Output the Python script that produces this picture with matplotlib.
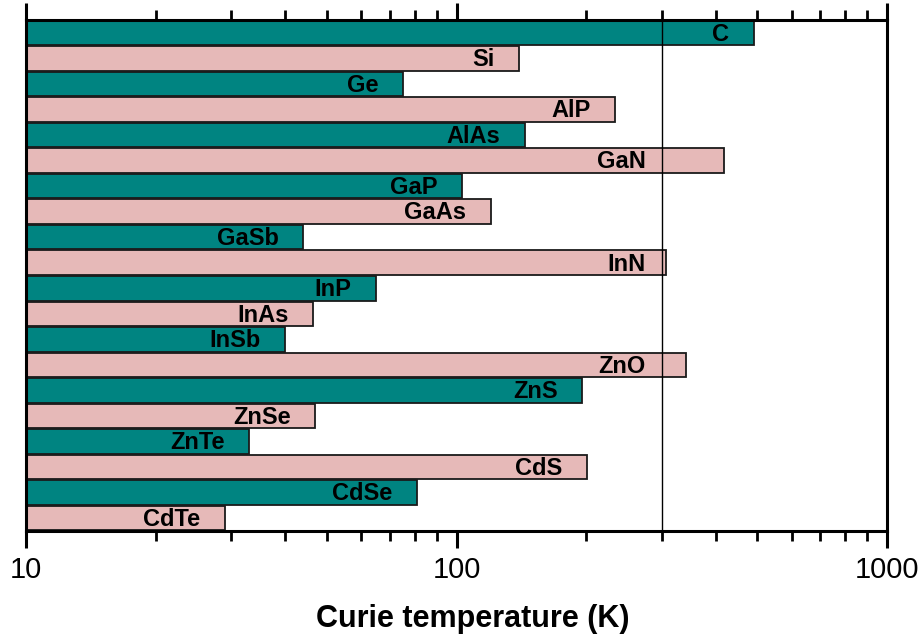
import numpy as np
import matplotlib
matplotlib.use("Agg")
import matplotlib.pyplot as plt
from matplotlib.ticker import LogLocator, NullFormatter, FixedLocator, FixedFormatter

# data (top to bottom)
materials = ["C", "Si", "Ge", "AlP", "AlAs", "GaN", "GaP", "GaAs", "GaSb", "InN",
             "InP", "InAs", "InSb", "ZnO", "ZnS", "ZnSe", "ZnTe", "CdS", "CdSe", "CdTe"]
curie_K = [490, 140, 75, 234, 144, 418, 103, 120, 44, 307,
           65, 46.4, 40, 341, 196, 47, 33, 201, 81, 29]
room_T = 300

teal = "#008481"
pink = "#E6B9B8"

plt.rcParams["font.family"] = ["Liberation Sans", "DejaVu Sans"]

fig = plt.figure(figsize=(9.24, 6.37), dpi=100)
ax = fig.add_axes([0.0281, 0.1664, 0.9319, 0.8022])

y = np.arange(len(materials))
colors = [teal if i % 2 == 0 else pink for i in range(len(materials))]
ax.barh(y, np.array(curie_K) - 10, left=10, height=0.96, color=colors,
        edgecolor="#1a1a1a", linewidth=1.3, zorder=2)

ax.axvline(room_T, color="black", linewidth=1.0, zorder=3)

for yi, name, v in zip(y, materials, curie_K):
    xt = v / 1.14
    if room_T < v < 450:
        xt = room_T / 1.09
    ax.text(xt, yi + 0.05, name, ha="right", va="center", fontsize=17,
            fontweight="bold", color="black", zorder=4)

ax.set_xscale("log")
ax.set_xlim(10, 1000)
ax.set_ylim(len(materials) - 0.5, -0.5)
ax.set_yticks([])

ax.xaxis.set_major_locator(FixedLocator([10, 100, 1000]))
ax.xaxis.set_major_formatter(FixedFormatter(["10", "100", "1000"]))
ax.xaxis.set_minor_locator(LogLocator(base=10, subs=np.arange(2, 10)))
ax.xaxis.set_minor_formatter(NullFormatter())
ax.tick_params(axis="x", which="major", direction="out", length=12, width=2.2,
               labelsize=21, top=True, pad=6)
ax.tick_params(axis="x", which="minor", direction="out", length=7, width=2.0, top=True)

for s in ax.spines.values():
    s.set_linewidth(2.2)

ax.set_xlabel("Curie temperature (K)", fontsize=22, fontweight="bold")
ax.xaxis.set_label_coords(0.519, -0.142)

fig.savefig("out.png", dpi=100)
